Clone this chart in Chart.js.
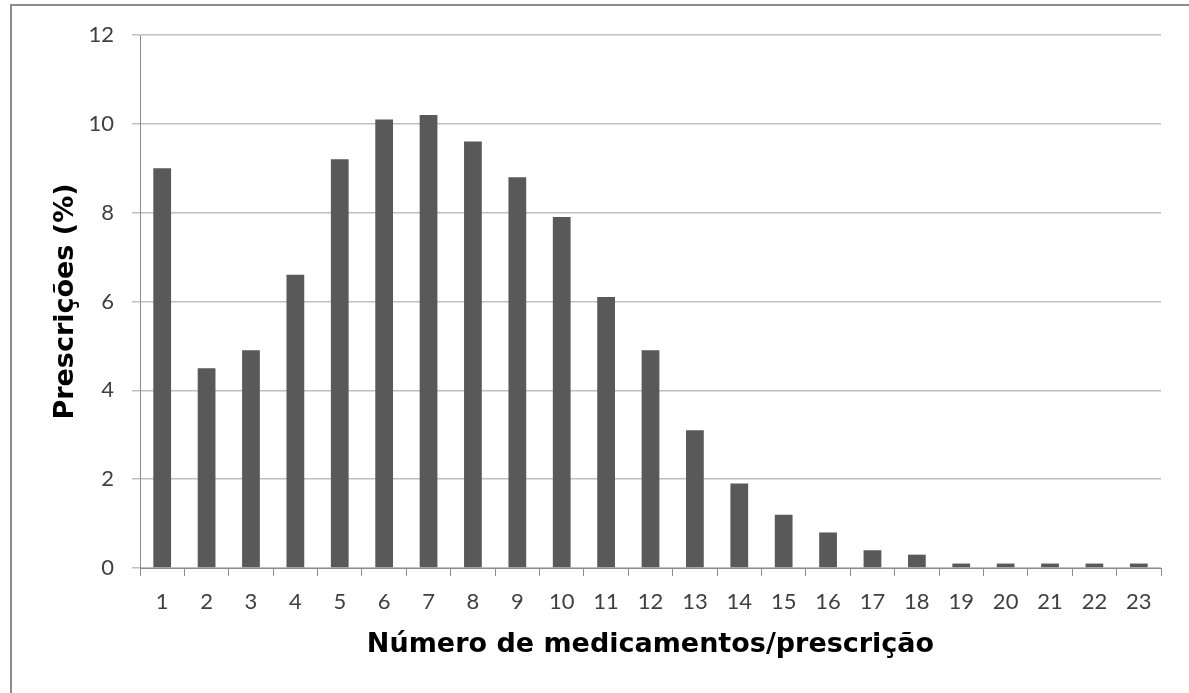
<!DOCTYPE html>
<html>
<head>
<meta charset="utf-8">
<script src="https://cdn.jsdelivr.net/npm/chart.js@4"></script>
<style>
  html, body { margin: 0; padding: 0; background: #fff; }
  #wrap { position: relative; width: 1189px; height: 693px; overflow: hidden; }
  #frame { position: absolute; left: 10px; top: 4px; width: 1300px; height: 800px; border: 2px solid #8c8c8c; }
  canvas { position: absolute; left: 0; top: 0; }
</style>
</head>
<body>
<div id="wrap">
  <div id="frame"></div>
  <canvas id="chart" width="1189" height="693"></canvas>
</div>
<script>
const categories = ['1','2','3','4','5','6','7','8','9','10','11','12','13','14','15','16','17','18','19','20','21','22','23'];
const prescricoes = [9.0, 4.5, 4.9, 6.6, 9.2, 10.1, 10.2, 9.6, 8.8, 7.9, 6.1, 4.9, 3.1, 1.9, 1.2, 0.8, 0.4, 0.3, 0.1, 0.1, 0.1, 0.1, 0.1];
const yTicks = [0, 2, 4, 6, 8, 10, 12];

const tickFont = { family: 'Lato', size: 22 };
const titleFont = { family: 'DejaVu Sans', size: 27, weight: 'bold' };

new Chart(document.getElementById('chart'), {
  type: 'bar',
  data: {
    labels: categories,
    datasets: [{
      data: prescricoes,
      backgroundColor: '#595959',
      borderWidth: 0,
      barPercentage: 0.4,
      categoryPercentage: 1
    }]
  },
  options: {
    responsive: false,
    animation: false,
    layout: { padding: { top: 35, right: 28, left: 0, bottom: 0 } },
    plugins: { legend: { display: false }, tooltip: { enabled: false } },
    scales: {
      x: {
        grid: { display: true, drawOnChartArea: false, offset: true, color: '#8c8c8c', tickLength: 8 },
        border: { color: '#8c8c8c' },
        ticks: { color: '#404040', font: tickFont, padding: 13, maxRotation: 0 },
        title: { display: true, text: 'Número de medicamentos/prescrição', color: '#000', font: titleFont, padding: { top: 0, bottom: 32 } },
        afterFit: (s) => { s.height = 125; }
      },
      y: {
        min: 0, max: 12,
        afterBuildTicks: (s) => { s.ticks = yTicks.map(v => ({ value: v })); },
        grid: { color: '#bfbfbf', tickLength: 8, lineWidth: 1.5 },
        border: { color: '#8c8c8c' },
        ticks: { color: '#404040', font: tickFont, padding: 18 },
        title: { display: true, text: 'Prescrições (%)', color: '#000', font: titleFont, padding: { top: 50, bottom: 0 } },
        afterFit: (s) => { s.width = 140; }
      }
    }
  }
});
</script>
</body>
</html>
